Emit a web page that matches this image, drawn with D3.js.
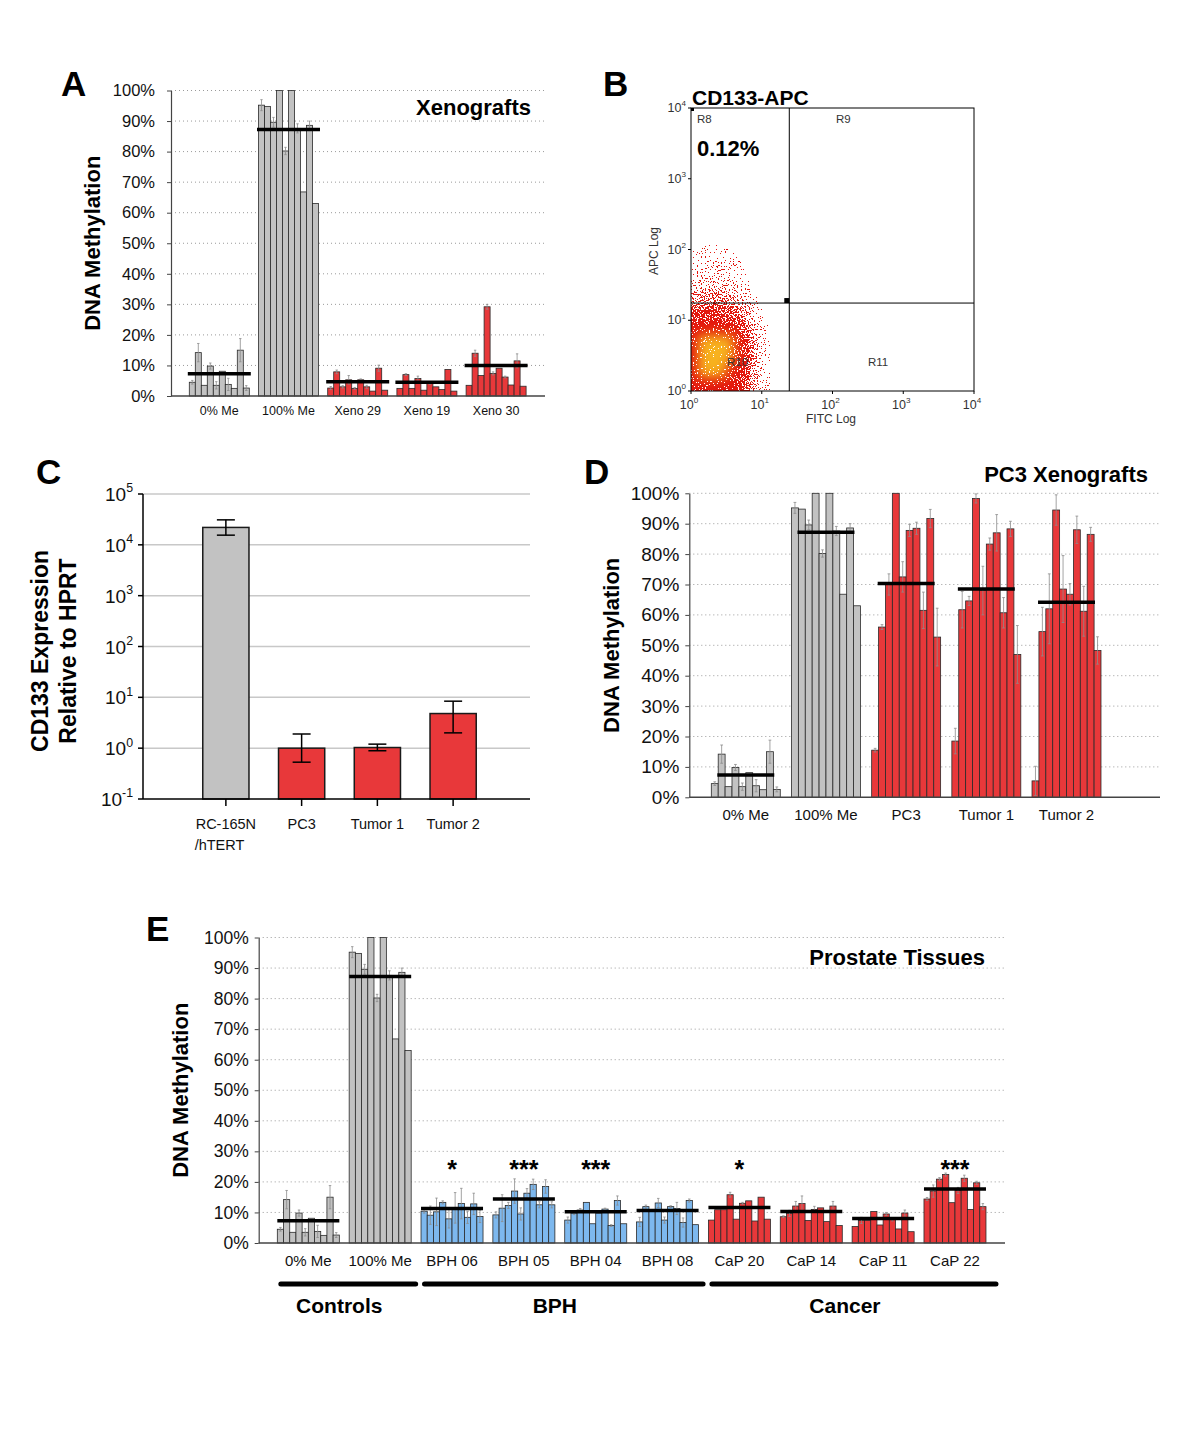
<!DOCTYPE html>
<html>
<head>
<meta charset="utf-8">
<script src="https://cdn.jsdelivr.net/npm/d3@7"></script>
<style>
  body { margin: 0; background: #fff; }
  text { font-family: "Liberation Sans", Arial, Helvetica, sans-serif; }
</style>
</head>
<body>
<script>
// methylation per CpG site (10 sites per sample), percent
var zeroMe = [4.5, 14.2, 3.5, 9.8, 3.5, 8.1, 3.8, 2.5, 15.0, 2.6];
var zeroMeErr = [0.6, 3.0, 0, 1.0, 1.2, 0, 2.0, 0, 3.8, 0.8];
var fullMe = [95.2, 94.8, 89.6, 100, 80.2, 100, 87.6, 66.8, 88.6, 63.0];
var fullMeErr = [1.8, 0, 1.6, 0, 1.2, 0, 1.5, 0, 1.4, 0];

var xeno29 = [2.6, 7.9, 3.0, 5.3, 2.5, 5.3, 3.0, 1.6, 9.1, 1.9];
var xeno29Err = [0.5, 0.6, 0.4, 1.4, 0.3, 0.3, 0.5, 0, 1.0, 0];
var xeno19 = [2.5, 7.0, 2.5, 5.7, 1.9, 4.1, 3.0, 2.1, 8.7, 1.6];
var xeno19Err = [0, 0.3, 0, 0.8, 0, 0.3, 0, 0, 0, 0];
var xeno30 = [3.5, 14.0, 6.7, 29.2, 7.4, 9.1, 6.2, 3.6, 11.5, 3.2];
var xeno30Err = [0, 1.0, 0, 0.8, 0.5, 0, 0.3, 0, 2.3, 0];

var pc3 = [15.5, 56.0, 70.0, 100, 72.5, 87.8, 88.5, 61.5, 91.7, 52.7];
var pc3Err = [0.6, 0.8, 3.5, 0, 5.0, 2.0, 2.0, 6.0, 3.0, 9.5];
var tumor1 = [18.5, 61.7, 64.6, 98.3, 68.0, 83.3, 87.0, 60.7, 88.3, 47.0];
var tumor1Err = [4.2, 6.0, 1.5, 1.5, 8.0, 2.0, 6.0, 5.0, 2.5, 9.5];
var tumor2 = [5.4, 54.5, 62.0, 94.5, 68.5, 66.8, 88.0, 61.2, 86.5, 48.3];
var tumor2Err = [4.8, 8.0, 11.5, 5.0, 11.0, 3.5, 4.5, 8.2, 2.3, 4.5];

var bph06 = [10.4, 9.1, 10.2, 13.3, 7.9, 11.5, 12.9, 8.4, 12.8, 8.7];
var bph06Err = [0.6, 3.0, 4.5, 0.5, 3.0, 5.0, 5.0, 2.0, 3.5, 2.0];
var bph05 = [9.2, 11.4, 12.3, 17.0, 9.5, 16.3, 19.2, 12.5, 18.5, 12.5];
var bph05Err = [1.0, 4.4, 1.0, 4.0, 2.0, 1.5, 1.7, 1.0, 2.2, 1.0];
var bph04 = [7.5, 9.8, 10.8, 13.3, 6.3, 9.8, 11.1, 5.7, 13.9, 6.3];
var bph04Err = [1.0, 0.5, 0.5, 0, 0, 0, 0.3, 0.3, 1.5, 0];
var bph08 = [6.9, 11.9, 10.5, 13.1, 7.5, 11.9, 11.3, 6.7, 13.9, 6.0];
var bph08Err = [1.5, 0.5, 0, 1.5, 1.0, 0.3, 2.0, 1.5, 0.5, 0];
var cap20 = [7.5, 10.9, 10.9, 15.8, 7.8, 13.0, 13.8, 7.2, 15.0, 7.8];
var cap20Err = [0, 0, 0, 0.8, 0, 0.3, 0, 0, 0, 0];
var cap14 = [8.6, 9.7, 12.1, 12.9, 7.4, 11.0, 11.5, 7.0, 12.1, 5.7];
var cap14Err = [0.3, 1.0, 1.5, 2.5, 0, 1.0, 0, 0, 1.5, 0];
var cap11 = [5.4, 7.4, 7.4, 10.3, 5.9, 9.5, 7.7, 4.6, 9.8, 3.7];
var cap11Err = [0, 1.0, 0, 0, 0, 0.5, 0.5, 0, 1.0, 0];
var cap22 = [14.4, 17.0, 20.9, 22.4, 13.2, 17.2, 21.2, 11.0, 19.7, 11.9];
var cap22Err = [0.5, 2.0, 0.5, 0.5, 0, 1.0, 1.0, 0, 0.5, 1.0];

// mean methylation lines (as drawn)
var meanZero = 7.3, meanFull = 87.2;
var meanXeno29 = 4.7, meanXeno19 = 4.5, meanXeno30 = 10.0;
var meanPc3 = 70.3, meanTumor1 = 68.5, meanTumor2 = 64.2;
var meanBph = [11.3, 14.4, 10.2, 10.6];
var meanCap = [11.6, 10.3, 8.0, 17.7];
var starsE = ['*', '***', '***', '', '*', '', '', '***'];

// panel C: CD133 expression relative to HPRT
var cNames = ['RC-165N', 'PC3', 'Tumor 1', 'Tumor 2'];
var cLabels = [['RC-165N', '/hTERT'], ['PC3'], ['Tumor 1'], ['Tumor 2']];
var cValues = [22000, 1.0, 1.03, 4.8];
var cLow = [15500, 0.53, 0.89, 2.0];
var cHigh = [31000, 1.9, 1.2, 8.4];

// panel B: event density on a log grid (cols: 0.1 decade FITC, rows: 0.2 decade APC from bottom)
var cytoRows = [
  [0.95, 0.95, 0.95, 0.95, 0.90, 0.90, 0.80, 0.70, 0.50, 0.25, 0.08, 0.02],
  [0.95, 1.00, 1.00, 1.00, 1.00, 0.95, 0.90, 0.75, 0.50, 0.25, 0.08, 0.02],
  [0.95, 1.00, 1.00, 1.00, 1.00, 1.00, 0.90, 0.80, 0.55, 0.28, 0.08, 0.03],
  [0.95, 1.00, 1.00, 1.00, 1.00, 1.00, 0.90, 0.75, 0.50, 0.25, 0.07, 0.02],
  [0.90, 0.95, 0.95, 0.95, 0.95, 0.90, 0.80, 0.60, 0.40, 0.18, 0.05, 0.01],
  [0.70, 0.75, 0.75, 0.75, 0.70, 0.65, 0.55, 0.40, 0.22, 0.08, 0.02, 0],
  [0.40, 0.45, 0.45, 0.50, 0.45, 0.40, 0.30, 0.18, 0.10, 0.03, 0.01, 0],
  [0.18, 0.22, 0.25, 0.25, 0.22, 0.20, 0.14, 0.08, 0.04, 0.02, 0, 0],
  [0.10, 0.12, 0.14, 0.15, 0.12, 0.10, 0.07, 0.04, 0.02, 0.01, 0, 0],
  [0.05, 0.07, 0.08, 0.08, 0.07, 0.05, 0.04, 0.02, 0.01, 0, 0, 0],
  [0.02, 0.03, 0.04, 0.04, 0.03, 0.02, 0.02, 0.01, 0, 0, 0, 0],
  [0.01, 0.01, 0.02, 0.02, 0.01, 0.01, 0.01, 0, 0, 0, 0, 0],
  [0, 0, 0.01, 0.01, 0.01, 0, 0, 0, 0, 0, 0, 0]
];
var fitcGate = 24.5, apcGate = 17.5;
var cytoPercent = '0.12%';

var GRAY = '#c2c2c2', RED = '#e8383a', BLUE = '#7db8ee';

var svg = d3
  .select('body')
  .append('svg')
  .attr('width', 1200)
  .attr('height', 1430)
;

function grp(name, vals, err, mean, color, stars) {
  return {name: name, vals: vals, err: err, mean: mean, color: color, stars: stars || ''};
}

function sup(sel, base, exp, size) {
  sel.text(base);
  sel.append('tspan').attr('dy', -size * 0.45).attr('font-size', size * 0.65).text(exp);
}

// ---- shared methylation bar panel (A, D, E)
function methPanel(o) {
  var g = svg.append('g');
  var y = d3.scaleLinear().domain([0, 100]).range([o.y0, o.y1]);
  var gx = d3.scaleBand()
    .domain(o.groups.map(function(d) { return d.name; }))
    .range(o.xr)
    .paddingInner(o.pad)
    .paddingOuter(o.pad / 2);
  var bw = gx.bandwidth();
  var sx = d3.scaleBand().domain(d3.range(10)).range([0, bw]);

  // dotted grid
  g.append('g')
    .selectAll('line')
    .data(d3.range(10, 101, 10))
    .enter()
    .append('line')
    .attr('x1', o.ax)
    .attr('x2', o.axEnd)
    .attr('y1', function(d) { return y(d); })
    .attr('y2', function(d) { return y(d); })
    .attr('stroke', '#9a9a9a')
    .attr('stroke-width', 1)
    .attr('stroke-dasharray', '1,3')
  ;

  var groups = g.selectAll('g.grp')
    .data(o.groups)
    .enter()
    .append('g')
    .attr('class', 'grp')
    .attr('transform', function(d) { return 'translate(' + gx(d.name) + ',0)'; })
  ;

  function sites(d) {
    return d.vals.map(function(v, i) { return {v: v, e: d.err[i], i: i, c: d.color}; });
  }

  groups.selectAll('rect')
    .data(sites)
    .enter()
    .append('rect')
    .attr('x', function(d) { return sx(d.i); })
    .attr('y', function(d) { return y(d.v); })
    .attr('width', sx.bandwidth())
    .attr('height', function(d) { return y(0) - y(d.v); })
    .attr('fill', function(d) { return d.c; })
    .attr('stroke', '#2a2a2a')
    .attr('stroke-width', 0.8)
  ;

  // error bars, grey, both directions
  var eb = groups.selectAll('g.err')
    .data(function(d) { return sites(d).filter(function(s) { return s.e > 0; }); })
    .enter()
    .append('g')
    .attr('class', 'err')
    .attr('stroke', '#8c8c8c')
    .attr('stroke-width', 0.8)
  ;
  eb.append('line')
    .attr('x1', function(d) { return sx(d.i) + sx.bandwidth() / 2; })
    .attr('x2', function(d) { return sx(d.i) + sx.bandwidth() / 2; })
    .attr('y1', function(d) { return y(d.v - d.e); })
    .attr('y2', function(d) { return y(Math.min(d.v + d.e, 100.5)); })
  ;
  eb.append('line')
    .attr('x1', function(d) { return sx(d.i) + sx.bandwidth() * 0.3; })
    .attr('x2', function(d) { return sx(d.i) + sx.bandwidth() * 0.7; })
    .attr('y1', function(d) { return y(Math.min(d.v + d.e, 100.5)); })
    .attr('y2', function(d) { return y(Math.min(d.v + d.e, 100.5)); })
  ;
  eb.append('line')
    .attr('x1', function(d) { return sx(d.i) + sx.bandwidth() * 0.3; })
    .attr('x2', function(d) { return sx(d.i) + sx.bandwidth() * 0.7; })
    .attr('y1', function(d) { return y(d.v - d.e); })
    .attr('y2', function(d) { return y(d.v - d.e); })
  ;

  // mean lines
  groups.append('line')
    .attr('x1', o.meanInset)
    .attr('x2', bw - o.meanInset)
    .attr('y1', function(d) { return y(d.mean); })
    .attr('y2', function(d) { return y(d.mean); })
    .attr('stroke', '#000')
    .attr('stroke-width', 3.5)
  ;

  groups.append('text')
    .attr('x', bw / 2)
    .attr('y', o.labelY)
    .attr('text-anchor', 'middle')
    .attr('font-size', o.labelSize)
    .attr('fill', '#111')
    .text(function(d) { return d.name; })
  ;

  if (o.starY) {
    groups.append('text')
      .attr('x', bw / 2)
      .attr('y', o.starY)
      .attr('text-anchor', 'middle')
      .attr('font-size', 25)
      .attr('font-weight', 'bold')
      .text(function(d) { return d.stars; })
    ;
  }

  var yAxis = d3.axisLeft(y)
    .tickValues(d3.range(0, 101, 10))
    .tickFormat(function(d) { return d + '%'; })
    .tickSize(4)
    .tickSizeOuter(0)
    .tickPadding(o.tickPad);
  var ya = g.append('g')
    .attr('transform', 'translate(' + o.ax + ',0)')
    .call(yAxis);
  ya.selectAll('text').attr('font-size', o.tickSize).attr('fill', '#111').style('font-family', 'inherit');
  ya.selectAll('line').attr('stroke', '#444');
  ya.select('.domain').attr('stroke', '#444').attr('stroke-width', 1.2);

  g.append('line')
    .attr('x1', o.ax)
    .attr('x2', o.axEnd)
    .attr('y1', y(0))
    .attr('y2', y(0))
    .attr('stroke', '#444')
    .attr('stroke-width', 1.4)
  ;

  g.append('text')
    .attr('transform', 'translate(' + o.yTitleX + ',' + (o.y0 + o.y1) / 2 + ') rotate(-90)')
    .attr('text-anchor', 'middle')
    .attr('font-size', 22)
    .attr('font-weight', 'bold')
    .text('DNA Methylation')
  ;

  g.append('text')
    .attr('x', o.titleX)
    .attr('y', o.titleY)
    .attr('text-anchor', 'end')
    .attr('font-size', 22)
    .attr('font-weight', 'bold')
    .text(o.title)
  ;

  return gx;
}

function panelLetter(l, x, y) {
  svg.append('text')
    .attr('x', x)
    .attr('y', y)
    .attr('font-size', 35)
    .attr('font-weight', 'bold')
    .text(l)
  ;
}

// ---- A
methPanel({
  groups: [
    grp('0% Me', zeroMe, zeroMeErr, meanZero, GRAY),
    grp('100% Me', fullMe, fullMeErr, meanFull, GRAY),
    grp('Xeno 29', xeno29, xeno29Err, meanXeno29, RED),
    grp('Xeno 19', xeno19, xeno19Err, meanXeno19, RED),
    grp('Xeno 30', xeno30, xeno30Err, meanXeno30, RED)
  ],
  xr: [184.7, 530.7], pad: 0.133, y0: 396, y1: 90.5, ax: 171, axEnd: 545,
  meanInset: -1.5, labelY: 415, labelSize: 12.5, tickSize: 16.5, tickPad: 12,
  yTitleX: 100, title: 'Xenografts', titleX: 531, titleY: 115
});
panelLetter('A', 61, 96);

// ---- D
methPanel({
  groups: [
    grp('0% Me', zeroMe, zeroMeErr, meanZero, GRAY),
    grp('100% Me', fullMe, fullMeErr, meanFull, GRAY),
    grp('PC3', pc3, pc3Err, meanPc3, RED),
    grp('Tumor 1', tumor1, tumor1Err, meanTumor1, RED),
    grp('Tumor 2', tumor2, tumor2Err, meanTumor2, RED)
  ],
  xr: [705.7, 1106.6], pad: 0.14, y0: 797.3, y1: 493.3, ax: 689.3, axEnd: 1160,
  meanInset: 6, labelY: 820, labelSize: 15, tickSize: 19, tickPad: 6,
  yTitleX: 619, title: 'PC3 Xenografts', titleX: 1148, titleY: 482
});
panelLetter('D', 584, 484);

// ---- E
var eGroups = [
  grp('0% Me', zeroMe, zeroMeErr, meanZero, GRAY),
  grp('100% Me', fullMe, fullMeErr, meanFull, GRAY)
];
['BPH 06', 'BPH 05', 'BPH 04', 'BPH 08'].forEach(function(n, i) {
  eGroups.push(grp(n, [bph06, bph05, bph04, bph08][i], [bph06Err, bph05Err, bph04Err, bph08Err][i], meanBph[i], BLUE, starsE[i]));
});
['CaP 20', 'CaP 14', 'CaP 11', 'CaP 22'].forEach(function(n, i) {
  eGroups.push(grp(n, [cap20, cap14, cap11, cap22][i], [cap20Err, cap14Err, cap11Err, cap22Err][i], meanCap[i], RED, starsE[i + 4]));
});
var gxE = methPanel({
  groups: eGroups,
  xr: [272.4, 990.9], pad: 0.137, y0: 1243, y1: 937.5, ax: 258.7, axEnd: 1005,
  meanInset: 0, labelY: 1266, labelSize: 15, tickSize: 17.5, tickPad: 6, starY: 1178,
  yTitleX: 188, title: 'Prostate Tissues', titleX: 985, titleY: 965
});
panelLetter('E', 146, 941);

// category brackets under E
var sections = [
  {label: 'Controls', from: '0% Me', to: '100% Me'},
  {label: 'BPH', from: 'BPH 06', to: 'BPH 08'},
  {label: 'Cancer', from: 'CaP 20', to: 'CaP 22'}
];
sections.forEach(function(s, i) {
  var x1 = gxE(s.from) + 3.5;
  var x2 = gxE(s.to) + gxE.bandwidth() + (i === 2 ? 10 : 4.5);
  svg.append('line')
    .attr('x1', x1).attr('x2', x2)
    .attr('y1', 1284).attr('y2', 1284)
    .attr('stroke', '#000')
    .attr('stroke-width', 5)
    .attr('stroke-linecap', 'round');
  svg.append('text')
    .attr('x', (x1 + x2) / 2 - 9)
    .attr('y', 1313)
    .attr('text-anchor', 'middle')
    .attr('font-size', 21)
    .attr('font-weight', 'bold')
    .text(s.label);
});

// ---- C
(function() {
  var g = svg.append('g');
  var y = d3.scaleLog().domain([0.1, 1e5]).range([799, 494]);
  var x = d3.scaleBand().domain(cNames).range([188, 491]).paddingInner(0.39).paddingOuter(0.195);
  var exps = d3.range(-1, 6);

  g.selectAll('line.grid')
    .data(exps.slice(1))
    .enter()
    .append('line')
    .attr('x1', 143).attr('x2', 530)
    .attr('y1', function(e) { return y(Math.pow(10, e)); })
    .attr('y2', function(e) { return y(Math.pow(10, e)); })
    .attr('stroke', '#c8c8c8')
    .attr('stroke-width', 1.5)
  ;

  g.selectAll('rect')
    .data(cNames)
    .enter()
    .append('rect')
    .attr('x', function(d) { return x(d); })
    .attr('y', function(d, i) { return y(cValues[i]); })
    .attr('width', x.bandwidth())
    .attr('height', function(d, i) { return 799 - y(cValues[i]); })
    .attr('fill', function(d, i) { return i === 0 ? GRAY : RED; })
    .attr('stroke', '#1a1a1a')
    .attr('stroke-width', 1.5)
  ;

  cNames.forEach(function(d, i) {
    var cx = x(d) + x.bandwidth() / 2;
    var e = g.append('g').attr('stroke', '#000').attr('stroke-width', 1.5);
    e.append('line').attr('x1', cx).attr('x2', cx).attr('y1', y(cLow[i])).attr('y2', y(cHigh[i]));
    [cLow[i], cHigh[i]].forEach(function(v) {
      e.append('line').attr('x1', cx - 9).attr('x2', cx + 9).attr('y1', y(v)).attr('y2', y(v));
    });
    g.append('line').attr('x1', cx).attr('x2', cx).attr('y1', 799).attr('y2', 806)
      .attr('stroke', '#000').attr('stroke-width', 1.5);
    var t = g.append('text').attr('font-size', 14.5).attr('fill', '#111');
    t.text(cLabels[i][0]);
    var len = t.node().getComputedTextLength();
    t.attr('x', cx - len / 2).attr('y', 829);
    if (cLabels[i][1]) {
      g.append('text').attr('font-size', 14.5).attr('fill', '#111')
        .attr('x', cx - len / 2 - 1).attr('y', 850).text(cLabels[i][1]);
    }
  });

  exps.forEach(function(e) {
    var yy = y(Math.pow(10, e));
    g.append('line').attr('x1', 138).attr('x2', 143).attr('y1', yy).attr('y2', yy)
      .attr('stroke', '#000').attr('stroke-width', 1.5);
    var t = g.append('text').attr('x', 133).attr('y', yy + 7).attr('text-anchor', 'end')
      .attr('font-size', 19).attr('fill', '#111');
    sup(t, '10', String(e), 19);
  });

  g.append('line').attr('x1', 143).attr('x2', 143).attr('y1', 494).attr('y2', 799)
    .attr('stroke', '#000').attr('stroke-width', 1.5);
  g.append('line').attr('x1', 143).attr('x2', 530).attr('y1', 799).attr('y2', 799)
    .attr('stroke', '#000').attr('stroke-width', 1.5);

  g.append('text')
    .attr('transform', 'translate(48,651) rotate(-90)')
    .attr('text-anchor', 'middle').attr('font-size', 23).attr('font-weight', 'bold')
    .text('CD133 Expression');
  g.append('text')
    .attr('transform', 'translate(76,651) rotate(-90)')
    .attr('text-anchor', 'middle').attr('font-size', 23).attr('font-weight', 'bold')
    .text('Relative to HPRT');
})();
panelLetter('C', 36, 484);

// ---- B flow cytometry
(function() {
  var g = svg.append('g');
  var x = d3.scaleLog().domain([1, 1e4]).range([691, 974]);
  var y = d3.scaleLog().domain([1, 1e4]).range([391, 108]);
  var defs = svg.append('defs');

  defs.append('clipPath').attr('id', 'cyto-clip')
    .append('rect').attr('x', 691).attr('y', 108).attr('width', 283).attr('height', 283);

  // density -> speckled events: blurred density thresholded against a noise texture
  var f = defs.append('filter').attr('id', 'cyto-dots')
    .attr('filterUnits', 'userSpaceOnUse')
    .attr('x', 680).attr('y', 100).attr('width', 310).attr('height', 300)
    .attr('color-interpolation-filters', 'sRGB');
  f.append('feGaussianBlur').attr('in', 'SourceGraphic').attr('stdDeviation', 2.5).attr('result', 'dens');
  f.append('feGaussianBlur').attr('in', 'SourceGraphic').attr('stdDeviation', 6).attr('result', 'densSoft');
  f.append('feTurbulence').attr('type', 'fractalNoise').attr('baseFrequency', 0.75)
    .attr('numOctaves', 1).attr('seed', 7).attr('result', 'noise');
  f.append('feColorMatrix').attr('in', 'noise').attr('type', 'matrix')
    .attr('values', '0 0 0 0 0  0 0 0 0 0  0 0 0 0 0  3 0 0 0 -1').attr('result', 'n');
  f.append('feComposite').attr('in', 'dens').attr('in2', 'n').attr('operator', 'arithmetic')
    .attr('k1', 0).attr('k2', 1).attr('k3', -1).attr('k4', 0.46).attr('result', 'diff');
  f.append('feColorMatrix').attr('in', 'diff').attr('type', 'matrix')
    .attr('values', '0 0 0 0 0  0 0 0 0 0  0 0 0 0 0  0 0 0 1 0').attr('result', 'da');
  f.append('feComponentTransfer').attr('in', 'da').attr('result', 'mask')
    .append('feFuncA').attr('type', 'discrete').attr('tableValues', '0 1');
  f.append('feColorMatrix').attr('in', 'densSoft').attr('type', 'matrix')
    .attr('values', '1 0 0 0 0  0 1 0 0 0  0 0 1 0 0  0 0 0 0 1').attr('result', 'solid');
  f.append('feComposite').attr('in', 'solid').attr('in2', 'mask').attr('operator', 'in');

  var color = d3.interpolateRgb('#e3180e', '#f7b21f');
  var cells = [];
  cytoRows.forEach(function(row, r) {
    row.forEach(function(d, c) {
      if (d > 0) cells.push({r: r, c: c, d: d});
    });
  });

  g.append('g')
    .attr('clip-path', 'url(#cyto-clip)')
    .append('g')
    .attr('filter', 'url(#cyto-dots)')
    .selectAll('rect')
    .data(cells)
    .enter()
    .append('rect')
    .attr('x', function(d) { return x(Math.pow(10, d.c * 0.1)) - (d.c === 0 ? 8 : 0); })
    .attr('width', function(d) { return x(Math.pow(10, (d.c + 1) * 0.1)) - x(Math.pow(10, d.c * 0.1)) + 0.5 + (d.c === 0 ? 8 : 0); })
    .attr('y', function(d) { return y(Math.pow(10, (d.r + 1) * 0.2)); })
    .attr('height', function(d) { return y(Math.pow(10, d.r * 0.2)) - y(Math.pow(10, (d.r + 1) * 0.2)) + (d.r === 0 ? 8 : 0.5); })
    .attr('fill', function(d) { return color(Math.max(0, (d.d - 0.97) / 0.03)); })
    .attr('fill-opacity', function(d) { return d.d; })
  ;

  g.append('rect').attr('x', 691).attr('y', 108).attr('width', 283).attr('height', 283)
    .attr('fill', 'none').attr('stroke', '#000').attr('stroke-width', 1);
  g.append('line').attr('x1', x(fitcGate)).attr('x2', x(fitcGate)).attr('y1', 108).attr('y2', 391)
    .attr('stroke', '#000').attr('stroke-width', 1);
  g.append('line').attr('x1', 691).attr('x2', 974).attr('y1', y(apcGate)).attr('y2', y(apcGate))
    .attr('stroke', '#000').attr('stroke-width', 1);
  g.append('rect').attr('x', x(fitcGate) - 5).attr('y', y(apcGate) - 5).attr('width', 5).attr('height', 5);
  g.append('rect').attr('x', 691).attr('y', 108).attr('width', 3).attr('height', 3);

  d3.range(0, 5).forEach(function(e) {
    var v = Math.pow(10, e);
    g.append('line').attr('x1', x(v)).attr('x2', x(v)).attr('y1', 391).attr('y2', 394).attr('stroke', '#000');
    var tx = g.append('text').attr('x', x(v) - 2).attr('y', 409).attr('text-anchor', 'middle')
      .attr('font-size', 12.5).attr('fill', '#333');
    sup(tx, '10', String(e), 12.5);
    g.append('line').attr('x1', 688).attr('x2', 691).attr('y1', y(v)).attr('y2', y(v)).attr('stroke', '#000');
    var ty = g.append('text').attr('x', 686).attr('y', y(v) + 4).attr('text-anchor', 'end')
      .attr('font-size', 12.5).attr('fill', '#333');
    sup(ty, '10', String(e), 12.5);
  });

  g.append('text').attr('x', 831).attr('y', 423).attr('text-anchor', 'middle')
    .attr('font-size', 12).attr('fill', '#333').text('FITC Log');
  g.append('text').attr('transform', 'translate(658,251) rotate(-90)').attr('text-anchor', 'middle')
    .attr('font-size', 12).attr('fill', '#333').text('APC Log');

  [['R8', 697, 123], ['R9', 836, 123], ['R10', 727, 366], ['R11', 868, 366]].forEach(function(r) {
    g.append('text').attr('x', r[1]).attr('y', r[2]).attr('font-size', 11.5).attr('fill', '#333').text(r[0]);
  });

  g.append('text').attr('x', 697).attr('y', 156).attr('font-size', 22).attr('font-weight', 'bold').text(cytoPercent);
  g.append('text').attr('x', 692).attr('y', 105).attr('font-size', 21).attr('font-weight', 'bold').text('CD133-APC');
})();
panelLetter('B', 603, 96);
</script>
</body>
</html>
